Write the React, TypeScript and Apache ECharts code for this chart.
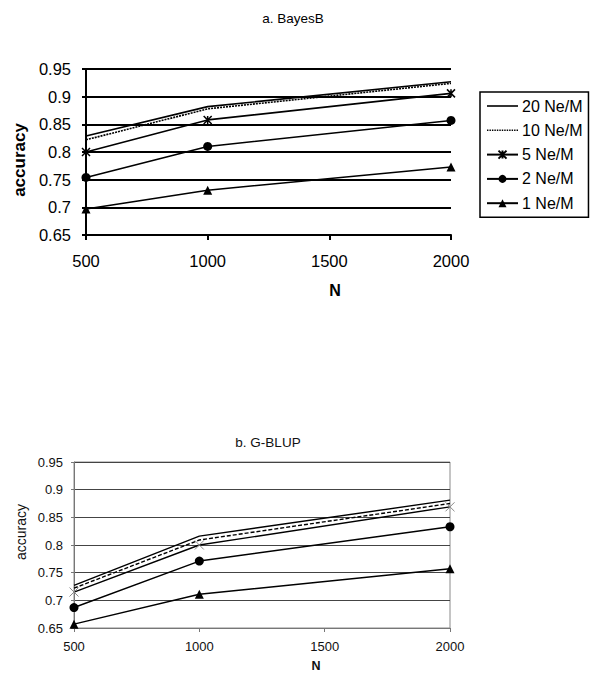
import React, { useEffect, useRef } from "react";
import * as echarts from "echarts";

const nValues = [500, 1000, 2000];
const seriesNames = ["20 Ne/M", "10 Ne/M", "5 Ne/M", "2 Ne/M", "1 Ne/M"];

// a. BayesB
const bayesB20 = [0.829, 0.882, 0.927];
const bayesB10 = [0.822, 0.878, 0.924];
const bayesB5 = [0.8, 0.858, 0.906];
const bayesB2 = [0.754, 0.81, 0.857];
const bayesB1 = [0.697, 0.731, 0.773];

// b. G-BLUP
const gblup20 = [0.727, 0.816, 0.881];
const gblup10 = [0.722, 0.809, 0.875];
const gblup5 = [0.715, 0.8, 0.869];
const gblup2 = [0.687, 0.771, 0.833];
const gblup1 = [0.657, 0.711, 0.757];

const yTickMin = 0.65;
const yTickMax = 0.95;
const xTickMin = 500;
const xTickMax = 2000;

const FONT = "Liberation Sans, Arial, sans-serif";
const ASTERISK = "path://M5,0L5,10M0,0L10,10M0,10L10,0";
const CROSS = "path://M0,0L10,10M0,10L10,0";

// legend icons for the marker-less series
const SOLID_ICON = "path://M0,0L31,0L31,1.6L0,1.6Z";
const dotted = (() => {
  let d = "";
  for (let x = 0; x < 31; x += 2.4) d += `M${x},0L${Math.min(x + 1.4, 31)},0L${Math.min(x + 1.4, 31)},1.6L${x},1.6Z`;
  return "path://" + d;
})();

const pairs = (vals: number[]) => nValues.map((n, i) => [n, vals[i]]);

export default function App() {
  const ref = useRef<HTMLDivElement>(null);
  useEffect(() => {
    if (!ref.current) return;
    const chart = echarts.init(ref.current, null, { renderer: "svg" });

    const topData = [bayesB20, bayesB10, bayesB5, bayesB2, bayesB1];
    const botData = [gblup20, gblup10, gblup5, gblup2, gblup1];

    const topStyles: any[] = [
      { symbol: "none", lineStyle: { type: "solid" } },
      { symbol: "none", lineStyle: { type: [2, 1] } },
      { symbol: ASTERISK, symbolSize: 8, itemStyle: { color: "#000", borderColor: "#000", borderWidth: 1.5 } },
      { symbol: "circle", symbolSize: 9, itemStyle: { color: "#000", borderWidth: 0 } },
      { symbol: "triangle", symbolSize: 9, itemStyle: { color: "#000", borderWidth: 0 } },
    ];
    const botStyles: any[] = [
      { symbol: "none", lineStyle: { type: "solid" } },
      { symbol: "none", lineStyle: { type: [4, 2] } },
      { symbol: CROSS, symbolSize: 9, itemStyle: { color: "#888", borderColor: "#888", borderWidth: 1 } },
      { symbol: "circle", symbolSize: 9, itemStyle: { color: "#000", borderWidth: 0 } },
      { symbol: "triangle", symbolSize: 9, itemStyle: { color: "#000", borderWidth: 0 } },
    ];

    const series: any[] = [];
    seriesNames.forEach((name, i) => {
      const st = topStyles[i];
      series.push({
        type: "line",
        name,
        xAxisIndex: 0,
        yAxisIndex: 0,
        data: pairs(topData[i]),
        symbol: st.symbol,
        symbolSize: st.symbolSize,
        showAllSymbol: true,
        itemStyle: st.itemStyle || { color: "#000" },
        lineStyle: { color: "#000", width: 1.6, ...(st.lineStyle || {}) },
        color: "#000",
        z: 3,
      });
    });
    seriesNames.forEach((name, i) => {
      const st = botStyles[i];
      series.push({
        type: "line",
        name: name + " (G-BLUP)",
        xAxisIndex: 1,
        yAxisIndex: 1,
        data: pairs(botData[i]),
        symbol: st.symbol,
        symbolSize: st.symbolSize,
        showAllSymbol: true,
        itemStyle: st.itemStyle || { color: "#000" },
        lineStyle: { color: "#000", width: 1.4, ...(st.lineStyle || {}) },
        color: "#000",
        z: 3,
      });
    });

    const legendData = seriesNames.map((name, i) =>
      i === 0 ? { name, icon: SOLID_ICON } : i === 1 ? { name, icon: dotted } : { name }
    );

    const option: any = {
      animation: false,
      backgroundColor: "#fff",
      grid: [
        { left: 86, right: 149, top: 69, bottom: 450, containLabel: false },
        {
          left: 74, right: 150, top: 462, bottom: 57, containLabel: false,
          show: true, borderColor: "#8a8a8a", borderWidth: 1, backgroundColor: "transparent",
        },
      ],
      xAxis: [
        {
          type: "value", gridIndex: 0, min: xTickMin, max: xTickMax, interval: 500,
          axisLine: { show: true, lineStyle: { color: "#000", width: 2 } },
          axisTick: { show: true, length: 5, lineStyle: { color: "#000", width: 2 } },
          axisLabel: { color: "#000", fontSize: 16.5, fontFamily: FONT, margin: 17, formatter: (v: number) => String(v) },
          splitLine: { show: false },
        },
        {
          type: "value", gridIndex: 1, min: xTickMin, max: xTickMax, interval: 500,
          axisLine: { show: true, lineStyle: { color: "#777", width: 1 } },
          axisTick: { show: true, length: 4, lineStyle: { color: "#777", width: 1 } },
          axisLabel: { color: "#111", fontSize: 13, fontFamily: FONT, margin: 12, formatter: (v: number) => String(v) },
          splitLine: { show: false },
        },
      ],
      yAxis: [
        {
          type: "value", gridIndex: 0, min: yTickMin, max: yTickMax, interval: 0.05,
          axisLine: { show: true, lineStyle: { color: "#000", width: 2 } },
          axisTick: { show: true, length: 4, lineStyle: { color: "#000", width: 2 } },
          axisLabel: { color: "#000", fontSize: 16.5, fontFamily: FONT, margin: 15 },
          splitLine: { show: true, lineStyle: { color: "#000", width: 2 } },
        },
        {
          type: "value", gridIndex: 1, min: yTickMin, max: yTickMax, interval: 0.05,
          axisLine: { show: true, lineStyle: { color: "#777", width: 1 } },
          axisTick: { show: true, length: 3, lineStyle: { color: "#777", width: 1 } },
          axisLabel: { color: "#111", fontSize: 13, fontFamily: FONT, margin: 11 },
          splitLine: { show: true, lineStyle: { color: "#444", width: 1 } },
        },
      ],
      legend: {
        data: legendData,
        orient: "vertical",
        left: 480,
        top: 92,
        width: 106,
        padding: [6, 6, 6, 6],
        itemGap: 8.3,
        itemWidth: 31,
        itemHeight: 10,
        borderColor: "#000",
        borderWidth: 1.5,
        textStyle: { color: "#000", fontSize: 16, fontFamily: FONT, padding: [0, 0, 0, -1] },
        inactiveColor: "#000",
      },
      graphic: [
        {
          type: "text", x: 293, y: 18,
          style: { text: "a. BayesB", font: `13.5px ${FONT}`, fill: "#000", align: "center", verticalAlign: "middle" },
        },
        {
          type: "text", x: 19, y: 160, rotation: Math.PI / 2,
          style: { text: "accuracy", font: `bold 17px ${FONT}`, fill: "#000", align: "center", verticalAlign: "middle" },
        },
        {
          type: "text", x: 335, y: 290,
          style: { text: "N", font: `bold 16px ${FONT}`, fill: "#000", align: "center", verticalAlign: "middle" },
        },
        {
          type: "text", x: 268, y: 442,
          style: { text: "b. G-BLUP", font: `13.5px ${FONT}`, fill: "#111", align: "center", verticalAlign: "middle" },
        },
        {
          type: "text", x: 21, y: 532, rotation: Math.PI / 2,
          style: { text: "accuracy", font: `14px ${FONT}`, fill: "#111", align: "center", verticalAlign: "middle" },
        },
        {
          type: "text", x: 316, y: 666,
          style: { text: "N", font: `bold 12.5px ${FONT}`, fill: "#111", align: "center", verticalAlign: "middle" },
        },
      ],
      series,
    };
    chart.setOption(option);
    return () => chart.dispose();
  }, []);

  return (
    <div
      ref={ref}
      style={{ position: "absolute", left: 0, top: 0, width: 600, height: 685, background: "#fff" }}
    />
  );
}
